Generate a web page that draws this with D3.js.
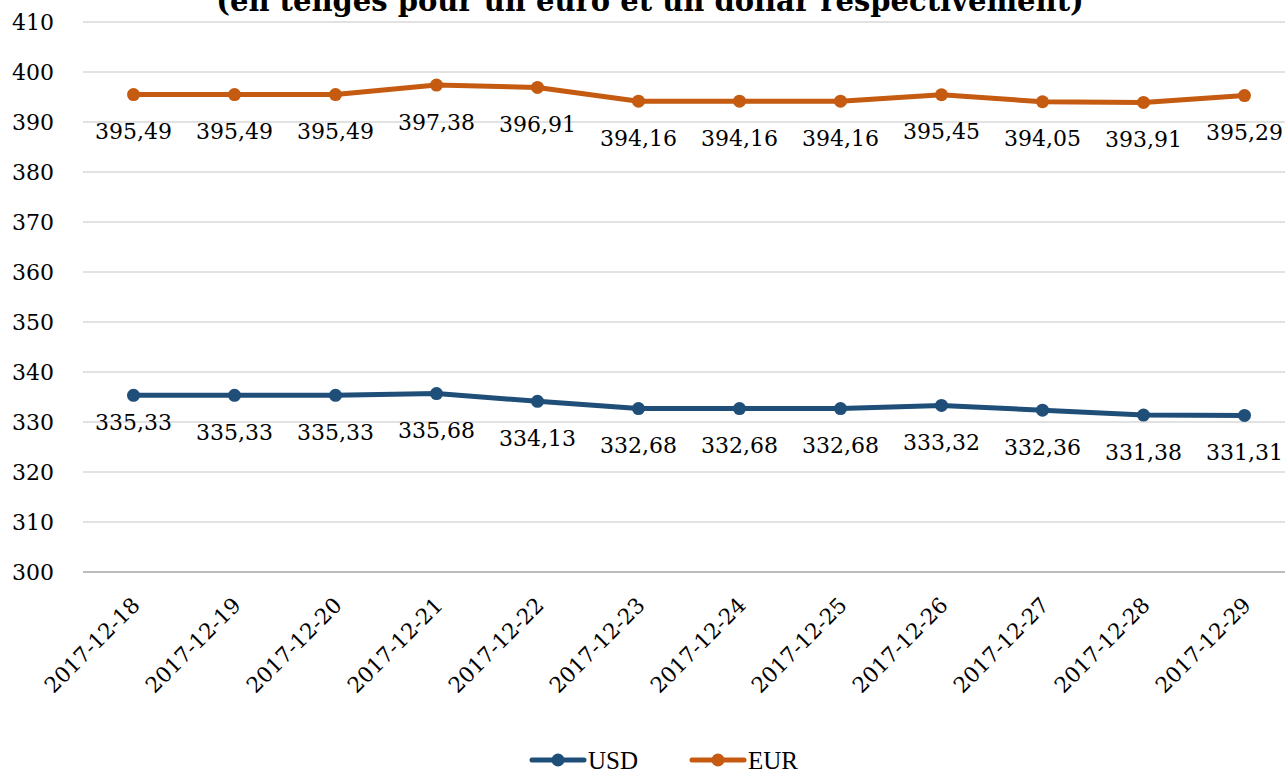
<!DOCTYPE html>
<html>
  <meta charset="utf-8" />
  <script src="https://d3js.org/d3.v7.min.js"></script>
  <style>
    body { margin: 0; background: #fff; }
    text { font-family: "DejaVu Serif", serif; fill: #000; }
  </style>
  <body>
    <svg id="chart" width="1285" height="771"></svg>
    <script>
      // categories and values
      var dates = ["2017-12-18", "2017-12-19", "2017-12-20", "2017-12-21", "2017-12-22", "2017-12-23",
        "2017-12-24", "2017-12-25", "2017-12-26", "2017-12-27", "2017-12-28", "2017-12-29"]
      var usd = [335.33, 335.33, 335.33, 335.68, 334.13, 332.68, 332.68, 332.68, 333.32, 332.36, 331.38, 331.31]
      var eur = [395.49, 395.49, 395.49, 397.38, 396.91, 394.16, 394.16, 394.16, 395.45, 394.05, 393.91, 395.29]
      var yTicks = [300, 310, 320, 330, 340, 350, 360, 370, 380, 390, 400, 410]
      var title = "(en tenges pour un euro et un dollar respectivement)"

      var svg = d3.select("#chart")
      var fmt = function (v) { return v.toFixed(2).replace(".", ",") }

      var x = d3.scalePoint().domain(dates).range([83, 1295]).padding(0.5)
      var y = d3.scaleLinear().domain([300, 410]).range([572, 22])

      // title (first line is off the top of the picture)
      svg.append("text")
        .attr("x", 650).attr("y", 11)
        .attr("text-anchor", "middle")
        .style("font-weight", "bold").style("font-size", "29px")
        .text(title)

      // grid
      svg.append("g").selectAll("line")
        .data(yTicks)
        .join("line")
        .attr("x1", 83).attr("x2", 1285)
        .attr("y1", d => y(d)).attr("y2", d => y(d))
        .attr("stroke", d => d === 300 ? "#a6a6a6" : "#d9d9d9")
        .attr("stroke-width", 1.5)

      // y axis labels
      svg.append("g").selectAll("text")
        .data(yTicks)
        .join("text")
        .attr("x", 54).attr("y", d => y(d))
        .attr("dy", "0.35em")
        .attr("text-anchor", "end")
        .style("font-size", "22px")
        .text(d => d)

      // x axis labels
      svg.append("g").selectAll("text")
        .data(dates)
        .join("text")
        .attr("transform", d => "translate(" + (x(d) - 3) + ",596) rotate(-45)")
        .attr("dy", "0.7em")
        .attr("text-anchor", "end")
        .style("font-size", "21.5px")
        .text(d => d)

      var series = [
        { name: "USD", values: usd, color: "#1f4e79" },
        { name: "EUR", values: eur, color: "#c55a11" }
      ]

      var line = d3.line()
        .x((d, i) => x(dates[i]))
        .y(d => y(d))

      series.forEach(function (s) {
        var g = svg.append("g")
        g.append("path")
          .attr("d", line(s.values))
          .attr("fill", "none")
          .attr("stroke", s.color)
          .attr("stroke-width", 5)
          .attr("stroke-linejoin", "round")
        g.selectAll("circle")
          .data(s.values)
          .join("circle")
          .attr("cx", (d, i) => x(dates[i]))
          .attr("cy", d => y(d))
          .attr("r", 6.5)
          .attr("fill", s.color)
        g.selectAll("text")
          .data(s.values)
          .join("text")
          .attr("x", (d, i) => x(dates[i]))
          .attr("y", (d, i) => y(d) + (s.name === "USD" && i === 0 ? 27 : 37))
          .attr("dy", "0.35em")
          .attr("text-anchor", "middle")
          .style("font-size", "22px")
          .text(d => fmt(d))
      })

      // legend
      var legend = svg.append("g").attr("transform", "translate(530,760)")
      series.forEach(function (s, i) {
        var lg = legend.append("g").attr("transform", "translate(" + i * 160 + ",0)")
        lg.append("line")
          .attr("x1", 2).attr("x2", 54)
          .attr("stroke", s.color).attr("stroke-width", 5)
          .attr("stroke-linecap", "round")
        lg.append("circle").attr("cx", 28).attr("r", 6.5).attr("fill", s.color)
        lg.append("text")
          .attr("x", 58).attr("dy", "0.35em")
          .style("font-family", "'Liberation Serif', serif")
          .style("font-size", "25px")
          .text(s.name)
      })
    </script>
  </body>
</html>
